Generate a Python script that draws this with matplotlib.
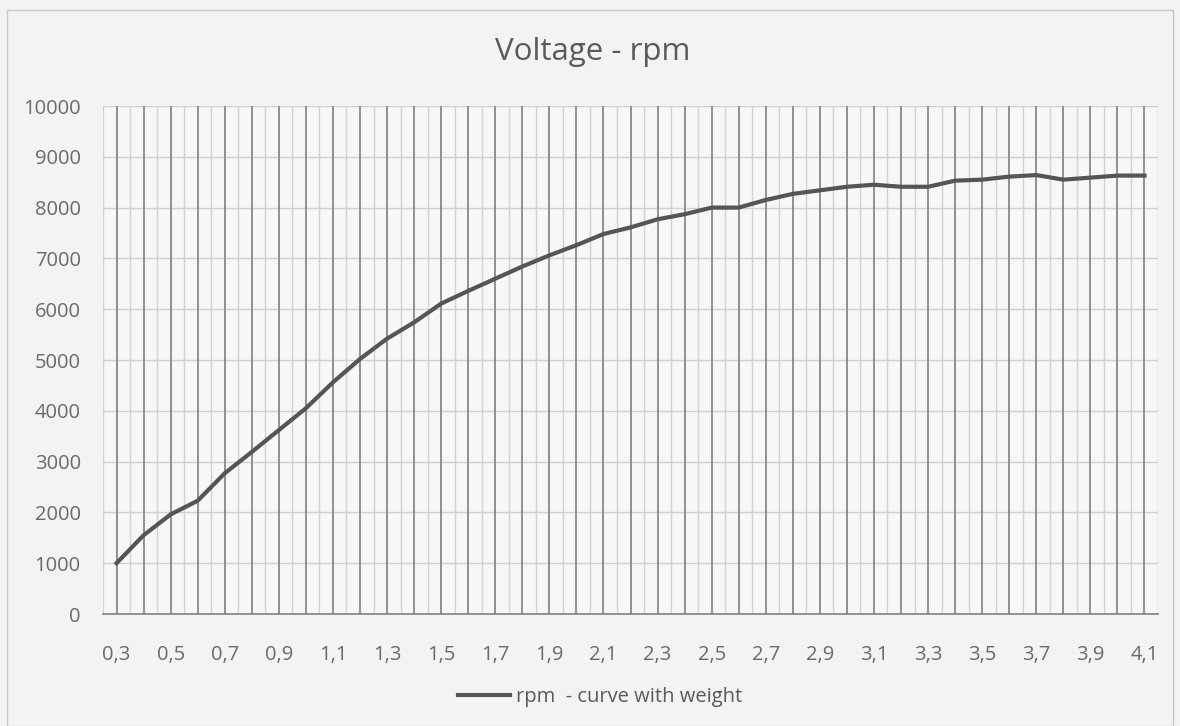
import matplotlib
matplotlib.use("Agg")
import matplotlib.pyplot as plt

plt.rcParams['font.family'] = ['Open Sans', 'DejaVu Sans']

voltage = ["0,3", "0,4", "0,5", "0,6", "0,7", "0,8", "0,9", "1,0", "1,1", "1,2",
           "1,3", "1,4", "1,5", "1,6", "1,7", "1,8", "1,9", "2,0", "2,1", "2,2",
           "2,3", "2,4", "2,5", "2,6", "2,7", "2,8", "2,9", "3,0", "3,1", "3,2",
           "3,3", "3,4", "3,5", "3,6", "3,7", "3,8", "3,9", "4,0", "4,1"]
rpm = [1000, 1550, 1960, 2230, 2770, 3190, 3620, 4050, 4560, 5020,
       5420, 5740, 6110, 6360, 6600, 6840, 7060, 7260, 7480, 7610,
       7770, 7870, 8000, 8000, 8150, 8270, 8340, 8410, 8450, 8410,
       8410, 8530, 8550, 8610, 8640, 8550, 8590, 8630, 8630]
y_ticks = [0, 1000, 2000, 3000, 4000, 5000, 6000, 7000, 8000, 9000, 10000]
series_name = "rpm  - curve with weight"
title = "Voltage - rpm"

W, H = 1180, 726
fig = plt.figure(figsize=(W / 100, H / 100), dpi=100)
bg = '#f3f3f1'
fig.patch.set_facecolor(bg)

# outer chart border
fig.add_artist(plt.Rectangle((7 / W, 0.0), (W - 14) / W, 1 - 10 / H,
                             transform=fig.transFigure, fill=False,
                             edgecolor='#c8c8c8', linewidth=1))

left, right, top, bottom = 103, 1158, 106, 614
ax = fig.add_axes([left / W, 1 - bottom / H, (right - left) / W, (bottom - top) / H])
ax.set_facecolor('#f7f7f6')

x = list(range(len(voltage)))
ax.plot(x, rpm, color='#555555', linewidth=3, label=series_name, zorder=5,
        solid_joinstyle='round')

ax.set_xlim(-0.5, len(voltage) - 0.5)
ax.set_ylim(0, 10000)

# gridlines
for i in x:
    ax.axvline(i, color='#808080', linewidth=1.2, zorder=2)
for i in range(len(voltage) + 1):
    ax.axvline(i - 0.5, color='#d2d2d2', linewidth=1, zorder=1)
for yv in y_ticks[1:]:
    ax.axhline(yv, color='#d0d0d0', linewidth=1, zorder=1)

ax.set_yticks(y_ticks)
ax.set_yticklabels([str(v) for v in y_ticks])
ax.set_xticks(x)
ax.set_xticklabels([lab if i % 2 == 0 else "" for i, lab in enumerate(voltage)])

ax.tick_params(axis='y', length=0, pad=16, labelsize=14.5, labelcolor='#6a6a6a')
ax.tick_params(axis='x', length=0, pad=22, labelsize=14.5, labelcolor='#6a6a6a')

for s in ['top', 'right', 'left']:
    ax.spines[s].set_visible(False)
ax.spines['bottom'].set_color('#808080')
ax.spines['bottom'].set_linewidth(1.2)

fig.text(593 / W, 1 - 52 / H, title, ha='center', va='center',
         fontsize=22.5, color='#5a5a5a')

leg = fig.legend(loc='center', bbox_to_anchor=(600 / W, 1 - 697 / H),
                 frameon=False, fontsize=14.5, handlelength=2.6,
                 handletextpad=0.3, labelcolor='#5a5a5a')

fig.savefig("out.png", dpi=100, facecolor=bg)
